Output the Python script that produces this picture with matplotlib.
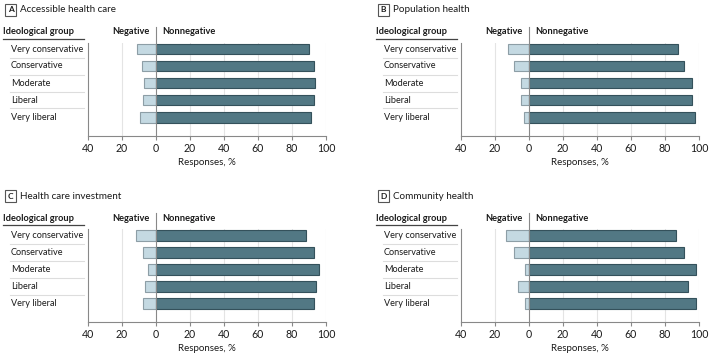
import matplotlib
matplotlib.use("Agg")
import matplotlib.pyplot as plt
from matplotlib.patches import Rectangle
from matplotlib.lines import Line2D

plt.rcParams['font.family'] = ['Lato', 'DejaVu Sans']

groups = ["Very conservative", "Conservative", "Moderate", "Liberal", "Very liberal"]
panel_letters = ["A", "B", "C", "D"]
panel_titles = ["Accessible health care", "Population health",
                "Health care investment", "Community health"]

# negative / nonnegative share (%) per group
neg_a = [11.0, 7.9, 6.9, 7.7, 9.4]
pos_a = [90.2, 92.7, 93.7, 93.1, 91.4]
neg_b = [12.3, 8.8, 4.3, 4.7, 2.7]
pos_b = [87.9, 91.4, 96.1, 95.7, 97.5]
neg_c = [11.8, 7.5, 4.5, 6.5, 7.5]
pos_c = [88.4, 92.7, 95.7, 93.9, 92.7]
neg_d = [13.3, 8.4, 2.1, 6.4, 2.1]
pos_d = [86.7, 91.4, 98.0, 93.8, 98.0]

xticks = [-40, -20, 0, 20, 40, 60, 80, 100]
xticklabels = ["40", "20", "0", "20", "40", "60", "80", "100"]

W, H = 709, 354
DARK = "#527884"
DARK_EDGE = "#34515b"
LIGHT = "#c4d9e2"
LIGHT_EDGE = "#8d9ea6"
TXT = "#1a1a1a"
FS = 6.6      # regular text
FSB = 6.7     # bold headers

fig = plt.figure(figsize=(W / 100, H / 100), dpi=100)
fig.patch.set_facecolor("white")

# panel origins in pixels (left, top)
origins = [(0, 0), (373, 0), (0, 186.3), (373, 186.3)]
data = [(neg_a, pos_a), (neg_b, pos_b), (neg_c, pos_c), (neg_d, pos_d)]


def px(x, y):
    return x / W, 1 - y / H


for (ox, oy), (neg, pos), letter, title in zip(origins, data, panel_letters, panel_titles):
    # axes: -40 at x=87.5, 100 at x=326; top 43, bottom 136
    l, b = px(ox + 87.5, oy + 136)
    r, t = px(ox + 326, oy + 43)
    ax = fig.add_axes([l, b, r - l, t - b])
    y = list(range(len(groups)))
    ax.barh(y, [-v for v in neg], height=0.62, color=LIGHT, edgecolor=LIGHT_EDGE,
            linewidth=0.8, zorder=3)
    ax.barh(y, pos, height=0.62, color=DARK, edgecolor=DARK_EDGE,
            linewidth=0.8, zorder=3)
    ax.set_xlim(-40, 100)
    ax.set_ylim(5.1, -0.35)
    ax.set_yticks([])
    ax.set_xticks(xticks)
    ax.set_xticklabels(xticklabels, fontsize=7.6, color=TXT)
    ax.tick_params(axis="x", length=3, width=0.8, color="#888888", pad=2)
    for g in xticks:
        if g not in (-40, 0):
            ax.axvline(g, color="#e4e4e4", linewidth=0.8, zorder=1)
    ax.axvline(0, ymin=0, ymax=1.17, color="#888888", linewidth=0.8, zorder=4,
               clip_on=False)
    for s in ["top", "right"]:
        ax.spines[s].set_visible(False)
    for s in ["left", "bottom"]:
        ax.spines[s].set_color("#888888")
        ax.spines[s].set_linewidth(0.8)
    ax.set_xlabel("Responses, %", fontsize=7, color=TXT, labelpad=3)

    # column headers
    ax.text(-3.5, -1.0, "Negative", ha="right", va="center", fontsize=FSB,
            fontweight="bold", color=TXT)
    ax.text(4, -1.0, "Nonnegative", ha="left", va="center", fontsize=FSB,
            fontweight="bold", color=TXT)

    # left label column
    fig.text(px(ox + 3, 0)[0], 1 - (oy + 32) / H, "Ideological group", ha="left",
             va="center", fontsize=FSB, fontweight="bold", color=TXT)
    x1, yl = px(ox + 3, oy + 39)
    x2, _ = px(ox + 84, 0)
    fig.add_artist(Line2D([x1, x2], [yl, yl], color="#444444", linewidth=0.9))
    for i, gname in enumerate(groups):
        cy = oy + 49 + 17 * i
        fig.text(px(ox + 11, 0)[0], 1 - cy / H, gname, ha="left", va="center",
                 fontsize=FS, color=TXT)
        if i < len(groups) - 1:
            sy = 1 - (cy + 8.5) / H
            fig.add_artist(Line2D([px(ox + 10, 0)[0], px(ox + 84, 0)[0]], [sy, sy],
                                  color="#dddddd", linewidth=0.8))

    # panel title with boxed letter
    bx, by = px(ox + 5, oy + 16)
    fig.add_artist(Rectangle((bx, by), 11 / W, 12 / H, transform=fig.transFigure,
                             facecolor="white", edgecolor="#555555", linewidth=0.8))
    fig.text(px(ox + 10.5, 0)[0], 1 - (oy + 10) / H, letter, ha="center", va="center",
             fontsize=6, fontweight="bold", color=TXT)
    fig.text(px(ox + 20, 0)[0], 1 - (oy + 10) / H, title, ha="left", va="center",
             fontsize=7.1, color=TXT)

fig.savefig("out.png", dpi=100, facecolor="white")
